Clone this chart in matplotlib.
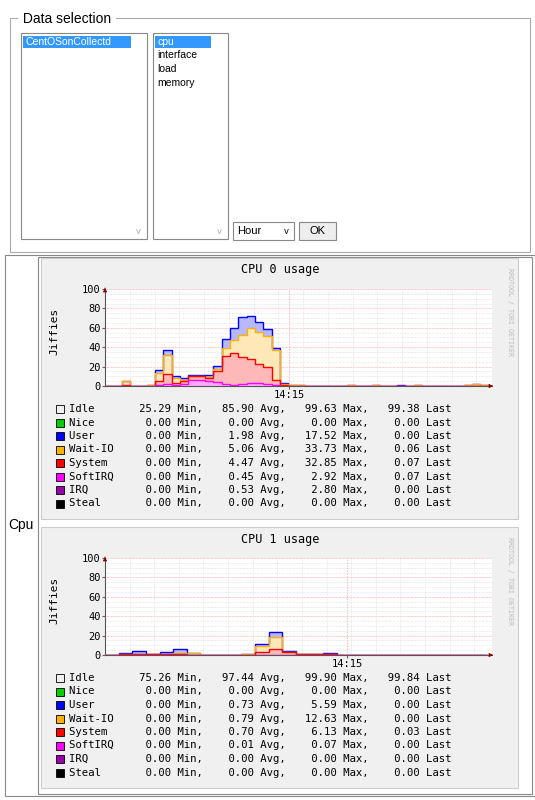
import matplotlib.pyplot as plt
import matplotlib.patches as mp
import numpy as np

W, H = 535, 800

# ---- data ----
hosts = ["CentOSonCollectd"]
plugins = ["cpu", "interface", "load", "memory"]
legend_names = ["Idle", "Nice", "User", "Wait-IO", "System", "SoftIRQ", "IRQ", "Steal"]
legend_cols = ["#f0f0f0", "#00cc00", "#0000ff", "#ffb000", "#ff0000", "#ff00ff", "#9900aa", "#000000"]
cpu0_stats = [(25.29, 85.90, 99.63, 99.38), (0, 0, 0, 0), (0, 1.98, 17.52, 0), (0, 5.06, 33.73, 0.06),
              (0, 4.47, 32.85, 0.07), (0, 0.45, 2.92, 0.07), (0, 0.53, 2.80, 0), (0, 0, 0, 0)]
cpu1_stats = [(75.26, 97.44, 99.90, 99.84), (0, 0, 0, 0), (0, 0.73, 5.59, 0), (0, 0.79, 12.63, 0),
              (0, 0.70, 6.13, 0.03), (0, 0.01, 0.07, 0), (0, 0, 0, 0), (0, 0, 0, 0)]

# cumulative tops per bin: softirq+irq, +system, +wait-io, +user
cpu0_soft = [0, 0, 0.5, 0, 0, 0, 1, 2, 1, 2, 6, 6, 5, 4, 2, 1, 2, 3, 3, 2, 1, 0, 0, 0] + [0] * 22
cpu0_sys = [0, 0, 1, 0, 0, 0, 5, 12, 3, 5, 10, 10, 8, 15, 31, 34, 30, 28, 23, 20, 6, 1, 0, 0] + [0] * 22
cpu0_wio = [0, 0, 5, 0, 0, 1, 13, 32, 8, 6, 10, 10, 9, 18, 39, 47, 53, 60, 56, 52, 37, 2, 1, 1,
            0, 0, 0, 0, 0, 1, 0, 0, 1, 0, 0, 0, 0, 1, 0, 0, 0, 0, 0, 1, 2, 1]
cpu0_usr = [0, 0, 5, 0, 0, 1, 16, 37, 10, 8, 11, 11, 11, 21, 48, 60, 71, 72, 66, 59, 39, 3, 1, 1,
            0, 0, 0, 0, 0, 1, 0, 0, 1, 0, 0, 1, 0, 1, 0, 0, 0, 0, 0, 1, 2, 1]

cpu1_soft = [0] * 28
cpu1_sys = [0, 1, 1, 1, 1, 1, 0, 0, 0, 0, 0, 3, 6, 3, 1, 1, 1, 0.5, 0.5, 0, 0, 0, 0, 0, 0, 0, 0, 0]
cpu1_wio = [0, 1, 1, 1, 1, 2, 2, 0, 0, 0, 1, 9, 19, 3, 1, 1, 1, 0.5, 0.5, 0, 0, 0, 0, 0, 0, 0, 0, 0]
cpu1_usr = [0.5, 2, 4, 1, 3, 6, 2, 0, 0, 0.5, 1, 11, 24, 4, 1, 1, 2, 0.5, 0.5, 0, 0, 0, 0, 0, 0, 0, 0, 0]

fig = plt.figure(figsize=(W / 100, H / 100), dpi=100)
bg = fig.add_axes([0, 0, 1, 1])
bg.set_xlim(0, W)
bg.set_ylim(H, 0)
bg.axis("off")

def rect(x0, y0, x1, y1, fc="white", ec="#999999", lw=0.8, z=1):
    bg.add_patch(mp.Rectangle((x0, y0), x1 - x0, y1 - y0, fc=fc, ec=ec, lw=lw, zorder=z))

sans = ["Liberation Sans", "DejaVu Sans"]
mono = "DejaVu Sans Mono"

# ---- Data selection form ----
rect(10, 18, 530, 252, fc="none", ec="#aaaaaa")
bg.text(19, 19, " Data selection ", fontsize=10, family=sans, va="center", ha="left",
        bbox=dict(fc="white", ec="none", pad=0.5), zorder=3)
rect(21, 33, 147, 239, ec="#888888")
rect(153, 33, 228, 239, ec="#888888")
rect(23, 36, 131, 48, fc="#3399ff", ec="none", z=2)
bg.text(25, 42, hosts[0], fontsize=7.5, family=sans, color="white", va="center", zorder=3)
rect(155, 36, 211, 48, fc="#3399ff", ec="none", z=2)
for i, p in enumerate(plugins):
    bg.text(157, 42 + 13.5 * i, p, fontsize=7.5, family=sans, color="white" if i == 0 else "black",
            va="center", zorder=3)
for x in (138, 219):
    bg.text(x, 231, "v", fontsize=6, color="#aaaaaa", ha="center", va="center")
rect(233, 222, 294, 240, ec="#888888")
bg.text(237, 231, "Hour", fontsize=8, family=sans, va="center")
bg.text(286, 231, "v", fontsize=6, ha="center", va="center")
rect(299, 222, 336, 240, fc="#eeeeee", ec="#888888")
bg.text(317, 231, "OK", fontsize=8, family=sans, va="center", ha="center")

# ---- table with graphs ----
rect(5, 255, 535, 796, fc="none", ec="#888888")
rect(38, 257, 532, 794, fc="none", ec="#888888")
bg.text(8, 525, "Cpu", fontsize=10, family=sans, va="center")

def panel(top, title, soft, sysv, wio, usr, stats):
    rect(41, top, 518, top + 261, fc="#f0f0f0", ec="#cccccc", z=1)
    bg.text(280, top + 12, title, fontsize=8.5, family=mono, ha="center", va="center")
    bg.text(54, top + 73, "Jiffies", fontsize=8, family=mono, rotation=90, ha="center", va="center")
    bg.text(510, top + 54, "RRDTOOL / TOBI OETIKER", fontsize=4.8, family=mono, rotation=270,
            color="#bbbbbb", ha="center", va="center")
    px0, px1, ptop, pbot = 105, 492, top + 31, top + 128
    ax = fig.add_axes([px0 / W, 1 - pbot / H, (px1 - px0) / W, (pbot - ptop) / H])
    ax.set_facecolor("white")
    n = len(usr)
    edges = np.arange(n + 1)
    ax.set_xlim(0, n + 0.4)
    ax.set_ylim(0, 100)
    layers = [(np.zeros(n), np.array(soft, float), "#ffaaff", "#ff00ff"),
              (np.array(soft, float), np.array(sysv, float), "#ffb8b8", "#ff0000"),
              (np.array(sysv, float), np.array(wio, float), "#ffe8b8", "#ffb000"),
              (np.array(wio, float), np.array(usr, float), "#b8b8ff", "#0000ff")]
    for lo, hi, fc, ec in layers:
        ax.stairs(hi, edges, baseline=lo, fill=True, color=fc, zorder=2)
    for lo, hi, fc, ec in reversed(layers):
        ax.stairs(hi, edges, baseline=None, color=ec, lw=1, zorder=3)
    for y in np.arange(5, 101, 5):
        ax.axhline(y, color="#ff9999" if y % 20 == 0 else "#dddddd", lw=0.5,
                   ls=(0, (1, 1)), zorder=1)
    step = n / 15.5
    for i in range(1, 16):
        ax.axvline(i * step, color="#dddddd", lw=0.5, ls=(0, (1, 1)), zorder=1)
    t15 = 22.1 if n > 30 else 17.75
    ax.axvline(t15, color="#ff9999", lw=0.5, ls=(0, (2, 2)), zorder=1)
    ax.set_xticks([t15])
    ax.set_xticklabels(["14:15"], family=mono, fontsize=7.5)
    ax.set_yticks([0, 20, 40, 60, 80, 100])
    ax.set_yticklabels(["0", "20", "40", "60", "80", "100"], family=mono, fontsize=7.5)
    ax.tick_params(length=2, pad=1, color="#666666")
    for s in ("top", "right"):
        ax.spines[s].set_visible(False)
    for s in ("left", "bottom"):
        ax.spines[s].set_color("#555555")
    ax.annotate("", xy=(1.01, 0), xytext=(0.99, 0), xycoords="axes fraction",
                arrowprops=dict(arrowstyle="-|>", color="#8b0000", lw=0.5, mutation_scale=6))
    ax.annotate("", xy=(0, 1.04), xytext=(0, 0.98), xycoords="axes fraction",
                arrowprops=dict(arrowstyle="-|>", color="#8b0000", lw=0.5, mutation_scale=6))
    for i, (name, col, st) in enumerate(zip(legend_names, legend_cols, stats)):
        y = top + 151 + 13.5 * i
        rect(56, y - 4, 64, y + 4, fc=col, ec="black", lw=0.6, z=2)
        line = f"{name:<8}{st[0]:>8.2f} Min,{st[1]:>8.2f} Avg,{st[2]:>8.2f} Max,{st[3]:>8.2f} Last"
        bg.text(69, y, line, fontsize=7.65, family=mono, va="center", zorder=3)

panel(258, "CPU 0 usage", cpu0_soft, cpu0_sys, cpu0_wio, cpu0_usr, cpu0_stats)
panel(527, "CPU 1 usage", cpu1_soft, cpu1_sys, cpu1_wio, cpu1_usr, cpu1_stats)

fig.savefig("out.png", dpi=100)
